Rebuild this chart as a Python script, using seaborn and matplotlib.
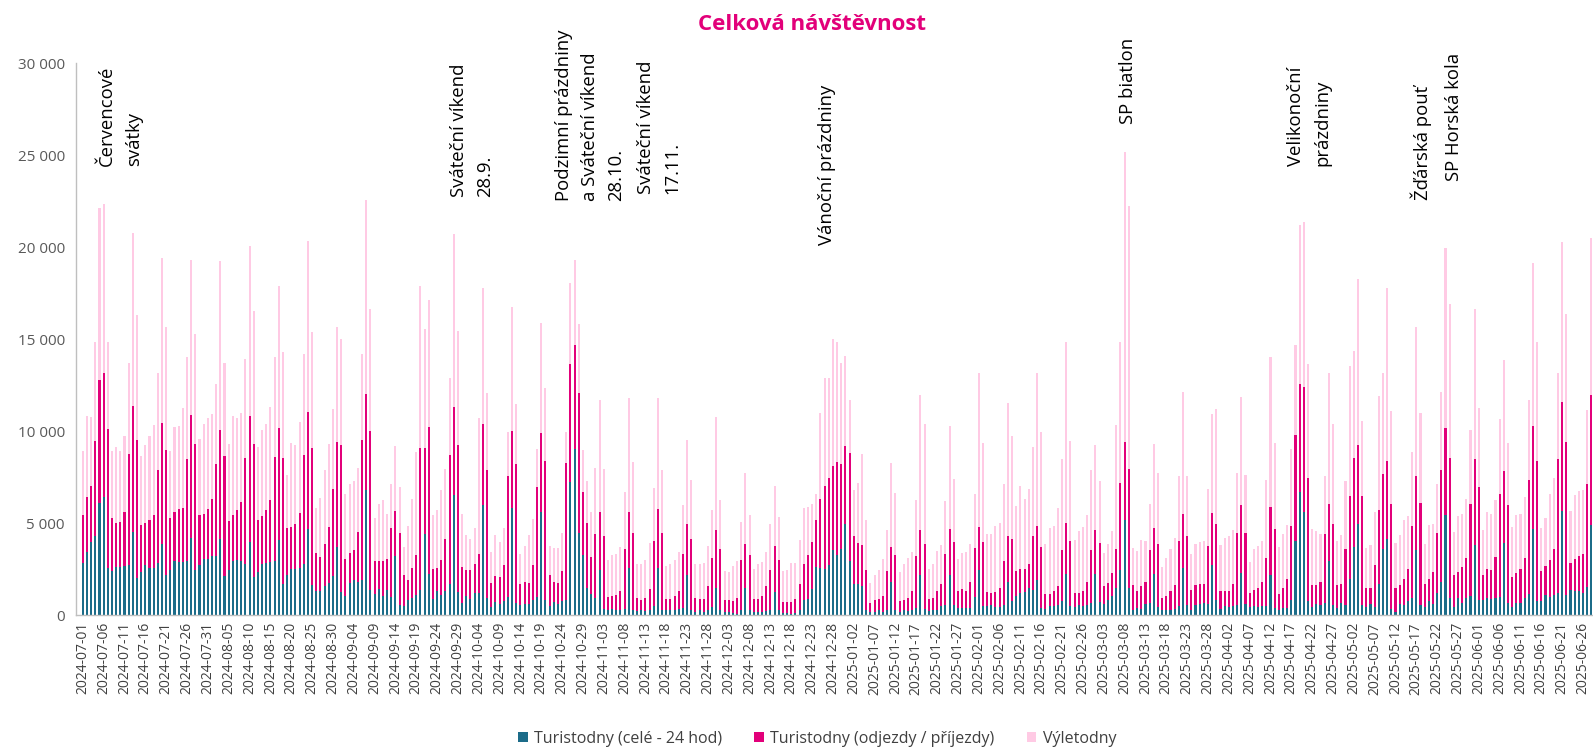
import numpy as np
import pandas as pd
import matplotlib
matplotlib.use("Agg")
import matplotlib.pyplot as plt
import seaborn as sns
from matplotlib.ticker import FuncFormatter
from matplotlib.patches import Patch

# ---------------- data ----------------
dates = pd.date_range("2024-07-01", "2025-06-28", freq="D")
day_labels = list(dates.strftime("%Y-%m-%d"))

# Turistodny (celé - 24 hod)
turistodny_cele = [
    2830,3430,3970,4280,6090,6420,2560,2380,2610,2610,2650,2700,4510,2010,2340,2700,2570,2570,2850,3880,2190,2470,2940,2880,2880,2920,4210,2470,2700,3060,3060,
    3210,3210,4120,2120,2470,2940,3010,2940,2790,3970,2070,2340,2790,2850,2880,2940,4060,1700,2160,2520,2520,2570,2790,4700,1610,1290,1290,1580,1740,2100,3700,
    1250,1030,1740,1890,1790,1920,6820,1340,1160,1400,1030,1340,980,3210,560,490,800,920,1070,1340,4420,2250,890,1290,1110,1290,1700,6510,1250,670,
    1030,890,1200,1210,5970,940,440,710,620,740,980,5820,670,530,620,620,800,980,5600,800,490,710,620,740,830,7230,9010,4460,3250,1490,1120,
    940,2470,310,250,340,250,250,340,2570,250,200,250,200,290,470,2570,250,250,250,250,310,400,2160,250,160,250,160,250,440,1490,
    250,160,160,130,70,250,1490,250,160,160,160,200,250,1250,250,130,130,70,130,250,800,890,1430,2610,2560,2480,2700,3520,3280,3570,4970,
    2920,1700,1670,1560,250,160,160,250,160,290,1790,250,160,250,220,250,400,2160,310,200,250,250,470,530,2190,530,380,400,400,380,980,
    2430,470,470,530,440,440,560,1790,760,1030,1200,1250,1470,1380,1890,400,340,490,490,530,740,2250,490,440,530,490,530,670,
    2250,710,620,830,1020,1470,2470,5190,1470,250,400,340,620,650,2250,440,290,290,290,310,490,2560,530,250,530,620,650,620,2700,800,340,
    470,440,490,530,2280,620,440,490,440,490,470,2190,400,250,400,400,830,4010,6690,5600,740,450,580,530,650,2920,530,400,650,530,
    1980,3700,4970,560,440,620,440,1670,3610,4120,310,160,620,530,760,920,3550,530,440,740,620,1200,1790,5460,920,440,920,670,920,1030,3790,
    800,800,920,890,920,980,3930,650,440,650,650,940,1160,4700,740,740,1110,980,1070,1210,5640,1110,1340,1310,1310,1200,1520,4880,
]

# Turistodny (odjezdy / příjezdy)
turistodny_odjezdy = [
    2590,2990,3030,5180,6670,6760,7570,2900,2410,2450,2950,6080,6860,7530,2540,2320,2620,2890,5020,6580,6800,2810,2660,2870,2960,5580,6650,6810,2720,2420,2690,
    3120,5020,5960,6530,2640,2480,2680,3210,5750,6840,7210,2850,2590,2840,3360,5650,6130,6840,2570,2270,2450,2980,5930,6340,7490,2080,1860,2260,3050,4770,5710,
    7980,2030,1630,1630,2720,7580,5180,8650,1780,1540,1910,1720,3770,2450,3900,1670,1090,1640,2210,7760,4660,7980,1590,1280,1860,2860,6980,4800,7980,1940,
    1440,1580,1560,2090,4400,6960,1320,1410,1450,1960,6560,4170,7560,1170,1170,1140,1900,5980,4300,7560,1700,1080,1120,1640,7460,6440,5660,7610,3440,3510,2030,
    3480,3130,3970,730,690,820,1040,3270,3030,4210,720,550,740,1140,3550,3210,4210,640,600,780,1000,2940,2770,3900,760,600,730,1310,2680,3120,
    3320,640,640,610,850,2720,2390,3000,730,730,860,1380,2220,2500,2720,580,580,640,760,1420,1960,2360,2560,2580,3730,4540,4750,4580,5040,4620,4200,
    5890,2580,2260,2230,2180,490,640,640,870,2100,1910,3000,580,550,700,1040,2810,2450,3570,690,670,1060,1200,2770,2510,3440,930,1030,890,1410,2680,
    2360,3500,780,670,810,1050,2360,2490,3390,1350,1320,1270,1320,2900,2950,3300,780,630,820,1050,2810,2770,3530,770,670,800,1260,2880,
    2360,3220,940,930,1280,2100,4730,4220,6450,1400,890,1220,1170,2900,2500,3400,650,740,1000,1300,3530,2920,3750,1090,1080,1050,1020,3110,2850,4170,950,
    840,850,1210,3930,3680,3840,770,850,1030,1300,2650,3680,4260,910,1090,1580,4010,5760,5890,6800,6710,1200,1070,1260,3740,3100,4440,1210,1050,3080,
    4470,4840,4260,5910,1030,850,2260,4060,4080,4240,5750,1310,990,1450,1720,3920,4010,5580,1260,1240,1720,3260,6080,4710,7620,1750,1420,1940,2200,5030,4680,
    6160,1360,1600,1540,2230,5620,3900,5310,1630,1650,1870,2160,6160,5560,7640,1650,1540,1990,2500,7290,5950,8300,1510,1720,1880,2140,5620,7070,
]

# Výletodny
vyletodny = [
    3500,4400,3770,5390,9390,9160,4720,3640,4120,3860,4120,4940,9370,6760,3790,4240,4530,4860,5260,8920,6640,3640,4630,4530,5420,5500,8430,5990,4170,4930,4980,
    4580,4350,9160,5060,4210,5390,5040,4840,5350,9260,7250,3950,4660,4680,5070,5440,7690,5750,2880,4570,4260,4950,5460,9300,6290,2450,3210,4030,4490,4350,6250,
    5800,3540,3770,3770,3500,4710,10550,6640,2350,3120,3300,2420,2360,3510,2500,1540,2930,3730,5590,8780,6490,6920,2940,3120,3810,3770,4210,9390,6220,2870,
    1900,1650,1970,7430,7430,4190,1670,2210,1900,2030,2410,6730,3230,1600,1940,2610,2540,2090,6000,4000,1560,1850,1900,2080,1660,4390,4620,3740,2270,2290,2450,
    3590,6110,3680,1990,2220,2270,2410,3080,6200,3860,1870,1960,2030,2490,2910,6020,3410,1760,1910,1980,2120,2620,4570,3170,1870,1910,1960,2170,2610,6160,
    2670,1590,1540,1910,2020,2090,3860,2170,1630,1900,1860,1850,2500,3250,2360,1680,1760,2120,1960,2390,3060,2620,2030,1370,4700,5890,5460,6930,6530,5530,4920,
    2900,2540,3250,4980,2760,1090,1360,1580,2000,2220,4590,3400,1600,1990,2180,2140,3060,7340,6530,1630,1840,2170,2160,2880,5580,3450,1720,1940,2140,2090,2900,
    8390,5390,3170,3220,3570,3510,4220,7270,5570,3530,4480,3770,4080,4860,8290,6250,2760,3630,3530,4240,4950,9830,5430,2850,3370,3500,3670,4320,
    4620,3340,1810,2120,2270,6780,7650,15770,14310,1990,2190,2500,2230,2470,4530,3900,1670,2090,2320,2600,3520,6650,3280,1960,2270,2300,2350,3110,5400,6250,2540,
    2900,2990,2940,3280,5900,3170,1670,2230,2280,2220,4240,8130,4710,2540,2930,2930,4210,4930,8610,8940,6170,3050,2900,2600,3150,7140,5400,2410,2670,3660,
    7070,5820,9010,4060,2170,2360,2900,6160,5490,9430,5020,2460,2720,3210,2900,4030,8100,4880,2140,2900,2630,2650,4260,9790,8360,2320,3030,2900,3210,4020,8140,
    4320,2450,3080,3080,3120,4040,6020,3410,2720,3120,2990,3320,4390,8890,6470,2340,2630,3590,3900,4680,8700,6940,2790,3480,3550,3480,4030,8570,
]

series_names = ["Turistodny (celé - 24 hod)", "Turistodny (odjezdy / příjezdy)", "Výletodny"]

annotations = [
    ("Červencové\nsvátky", 3.7, 24400),
    ("Sváteční víkend\n28.9.", 88.1, 22700),
    ("Podzimní prázdniny\na Sváteční víkend\n28.10.", 113.2, 22500),
    ("Sváteční víkend\n17.11.", 133.0, 22900),
    ("Vánoční prázdniny", 176.4, 20100),
    ("SP biatlon", 248.6, 26700),
    ("Velikonoční\nprázdniny", 289.0, 24400),
    ("Žďárská pouť", 318.7, 22550),
    ("SP Horská kola", 326.8, 23600),
]

# ---------------- styling ----------------
TEAL = "#1C6C89"
MAGENTA = "#E2007A"
PINK = "#FFCAE4"

sns.set_theme(style="white")
plt.rcParams['font.family'] = ['Open Sans', 'DejaVu Sans']

df = pd.DataFrame({
    "den": day_labels,
    "cele": turistodny_cele,
    "odjezdy": turistodny_odjezdy,
    "vylety": vyletodny,
})
df["lvl_cele"] = df["cele"]
df["lvl_odj"] = df["cele"] + df["odjezdy"]
df["lvl_all"] = df["lvl_odj"] + df["vylety"]

fig = plt.figure(figsize=(15.93, 7.51), dpi=100)
ax = fig.add_axes([0.0477, 0.181, 0.9523, 0.735])

for col, colr in [("lvl_all", PINK), ("lvl_odj", MAGENTA), ("lvl_cele", TEAL)]:
    sns.barplot(data=df, x="den", y=col, order=day_labels, color=colr,
                saturation=1, width=0.5, errorbar=None, ax=ax, linewidth=0)

ax.set_xlim(-1.65, 362.4)
ax.set_ylim(0, 30000)
ax.set_yticks(np.arange(0, 30001, 5000))
ax.yaxis.set_major_formatter(FuncFormatter(lambda v, p: f"{int(v):,}".replace(",", " ")))
tick_pos = list(range(0, len(day_labels), 5))
ax.set_xticks(tick_pos)
ax.set_xticklabels([day_labels[i] for i in tick_pos], rotation=90)
ax.tick_params(axis="x", labelsize=10, colors="#404040", length=0, pad=5)
ax.tick_params(axis="y", labelsize=11, colors="#595959", length=0, pad=8)
ax.set_xlabel("")
ax.set_ylabel("")
for s in ["top", "right"]:
    ax.spines[s].set_visible(False)
for s in ["left", "bottom"]:
    ax.spines[s].set_color("#BFBFBF")
    ax.spines[s].set_linewidth(1)

for text, xi, yv in annotations:
    ax.text(xi, yv, text, rotation=90, ha="left", va="bottom", multialignment="left",
            linespacing=1.6, fontsize=13.3, color="black")

fig.text(0.510, 0.968, "Celková návštěvnost", ha="center", va="center",
         color=MAGENTA, fontsize=16, fontweight="bold")

handles = [Patch(facecolor=c, edgecolor="none", label=n)
           for c, n in zip([TEAL, MAGENTA, PINK], series_names)]
fig.legend(handles=handles, loc="center", bbox_to_anchor=(0.513, 0.016), ncol=3,
           frameon=False, fontsize=11.5, handlelength=0.6, handleheight=0.6,
           handletextpad=0.4, columnspacing=2.0, labelcolor="#404040")

fig.savefig("out.png", dpi=100)
